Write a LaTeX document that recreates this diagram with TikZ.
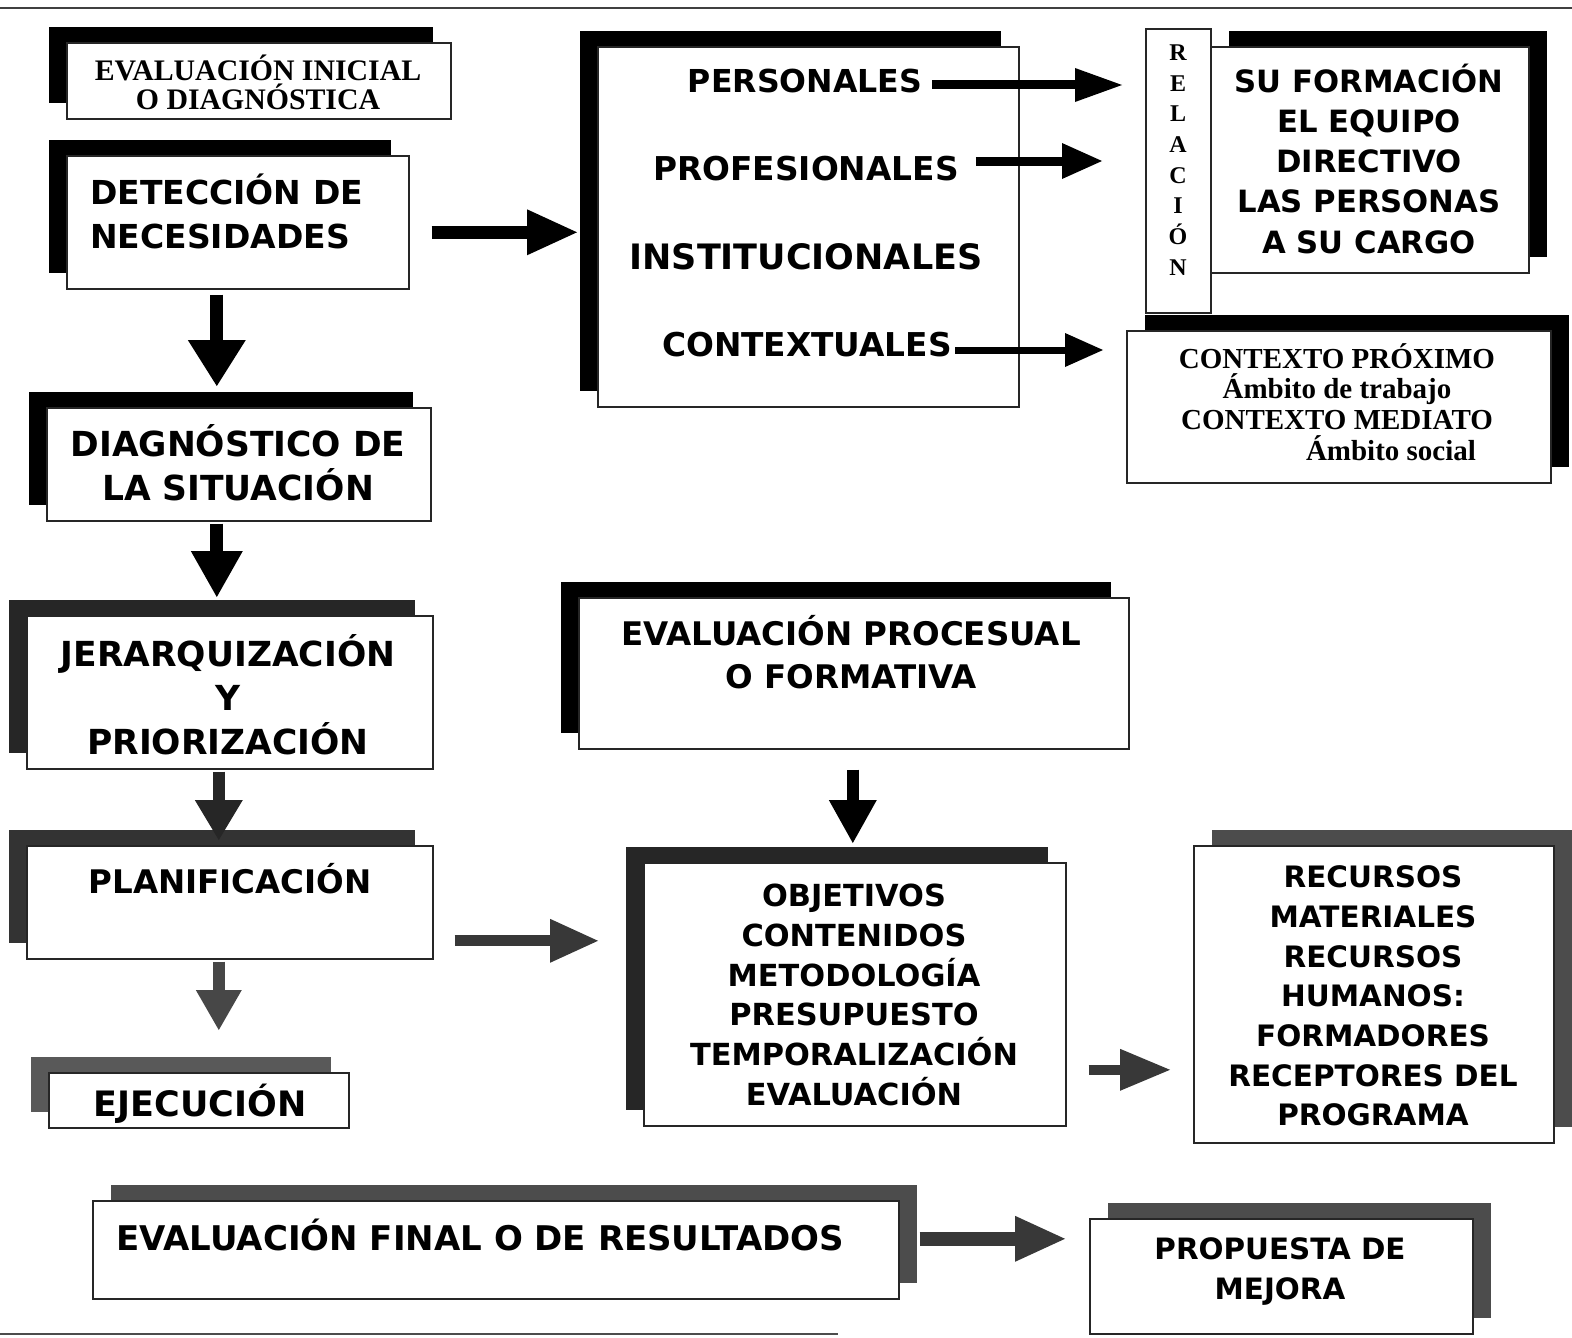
\documentclass[tikz,border=0pt]{standalone}
\usepackage{fontspec}
\usetikzlibrary{shadows,arrows.meta}
\newfontfamily\comic{DejaVu Sans}
\newfontfamily\tms{Liberation Serif}
\newcommand{\fsz}[2]{\fontsize{#1}{#2}\selectfont}

\begin{document}
\begin{tikzpicture}[x=1pt,y=-1pt,
  box/.style={draw=black!85, line width=1.6pt, fill=white, inner sep=0pt, anchor=north west},
  shL/.style={drop shadow={shadow xshift=-18pt, shadow yshift=16pt, fill=#1, opacity=1}},
  shL/.default=black,
  shR/.style={drop shadow={shadow xshift=18pt, shadow yshift=16pt, fill=#1, opacity=1}},
  shR/.default=black,
  txt/.style={inner sep=0pt, align=center},
  fat/.style n args={4}{draw=#4, line width=#1pt,
    -{Triangle[length=#2pt, width=#3pt, line width=0pt]}},
]
\useasboundingbox (0,0) rectangle (1572,1338);
\fill[white] (0,0) rectangle (1572,1338);

% rules at the top and bottom of the page
\draw[black!75, line width=1.5pt] (0,8) -- (1572,8);
\draw[black!70, line width=1.2pt] (0,1334) -- (838,1334);

% ---------- boxes ----------
\node[box, shL, minimum width=384pt, minimum height=76pt]  (ini)  at (66,42) {};
\node[box, shL, minimum width=342pt, minimum height=133pt] (det)  at (66,155) {};
\node[box, shL, minimum width=384pt, minimum height=113pt] (diag) at (46,407) {};
\node[box, shL=black!85, minimum width=406pt, minimum height=153pt] (jer) at (26,615) {};
\node[box, shL=black!80, minimum width=406pt, minimum height=113pt] (plan) at (26,845) {};
\node[box, shL=black!65, minimum width=300pt, minimum height=55pt] (ejec) at (48,1072) {};

\node[box, shL, minimum width=421pt, minimum height=360pt] (big)  at (597,46) {};
\node[box, minimum width=65pt, minimum height=284pt] (rel) at (1145,28) {};
\node[box, shR, minimum width=318pt, minimum height=226pt] (form) at (1210,46) {};
\node[box, shR, minimum width=424pt, minimum height=152pt] (ctx)  at (1126,330) {};

\node[box, shL, minimum width=550pt, minimum height=151pt] (proc) at (578,597) {};
\node[box, shL=black!85, minimum width=422pt, minimum height=263pt] (obj) at (643,862) {};
\node[box, shR=black!70, minimum width=360pt, minimum height=297pt] (rec) at (1193,845) {};

\node[box, shR=black!70, minimum width=806pt, minimum height=98pt] (fin) at (92,1200) {};
\node[box, shR=black!70, minimum width=383pt, minimum height=115pt] (prop) at (1089,1218) {};

% ---------- texts ----------
\node[txt, font=\tms\bfseries\fsz{29.8}{29}] (iniT) at (258,82)
  {EVALUACIÓN INICIAL\\O DIAGNÓSTICA};
\node[txt, align=left, anchor=west, font=\comic\bfseries\fsz{33}{44}] (detT) at (90,211)
  {DETECCIÓN DE\\NECESIDADES};
\node[txt, font=\comic\bfseries\fsz{34.5}{44}] (diagT) at (238,463)
  {DIAGNÓSTICO DE\\LA SITUACIÓN};
\node[txt, font=\comic\bfseries\fsz{34.5}{44}] (jerT) at (228,695)
  {JERARQUIZACIÓN\\Y\\PRIORIZACIÓN};
\node[txt, font=\comic\bfseries\fsz{32.5}{44}] (planT) at (230,879) {PLANIFICACIÓN};
\node[txt, font=\comic\bfseries\fsz{35}{44}] (ejecT) at (200,1104) {EJECUCIÓN};

\node[txt, font=\comic\bfseries\fsz{31.6}{40}] (pers) at (805,81)  {PERSONALES};
\node[txt, font=\comic\bfseries\fsz{32.8}{40}] (prof) at (806,169) {PROFESIONALES};
\node[txt, font=\comic\bfseries\fsz{35}{40}]   (inst) at (806,257) {INSTITUCIONALES};
\node[txt, font=\comic\bfseries\fsz{32.8}{40}] (cont) at (807,345) {CONTEXTUALES};

\node[txt, font=\tms\bfseries\fsz{24}{30.7}] (relT) at (1178,160)
  {R\\E\\L\\A\\C\\I\\Ó\\N};
\node[txt, font=\comic\bfseries\fsz{30.7}{40.25}] (formT) at (1369,158.5)
  {SU FORMACIÓN\\EL EQUIPO\\DIRECTIVO\\LAS PERSONAS\\A SU CARGO};
\node[txt, font=\tms\bfseries\fsz{29}{30.7}] (ctxT) at (1337,402)
  {CONTEXTO PRÓXIMO\\Ámbito de trabajo\\CONTEXTO MEDIATO\\\hspace*{108pt}Ámbito social};

\node[txt, font=\comic\bfseries\fsz{32.5}{43}] (procT) at (851,652)
  {EVALUACIÓN PROCESUAL\\O FORMATIVA};
\node[txt, font=\comic\bfseries\fsz{30.4}{39.8}] (objT) at (854,995)
  {OBJETIVOS\\CONTENIDOS\\METODOLOGÍA\\PRESUPUESTO\\TEMPORALIZACIÓN\\EVALUACIÓN};
\node[txt, font=\comic\bfseries\fsz{29.5}{39.67}] (recT) at (1373,996)
  {RECURSOS\\MATERIALES\\RECURSOS\\HUMANOS:\\FORMADORES\\RECEPTORES DEL\\PROGRAMA};

\node[txt, anchor=west, font=\comic\bfseries\fsz{34}{40}] (finT) at (116,1235)
  {EVALUACIÓN FINAL O DE RESULTADOS};
\node[txt, font=\comic\bfseries\fsz{29.4}{40}] (propT) at (1280,1272)
  {PROPUESTA DE\\MEJORA};

% ---------- connectors ----------
\coordinate (a1) at ([yshift=-10pt]det.east);
\draw[fat={13}{50}{46}{black}, shorten <=22pt, shorten >=20pt] (a1) -- (a1 -| big.west);

\coordinate (a2) at ([xshift=-21pt]det.south);
\draw[fat={13}{46}{58}{black}, shorten <=5pt, shorten >=21pt] (a2) -- (a2 |- diag.north);

\coordinate (a3) at ([xshift=-22pt]diag.south);
\draw[fat={13}{46}{52}{black}, shorten <=2pt, shorten >=18pt] (a3) -- (a3 |- jer.north);

\coordinate (a4) at ([xshift=-11pt]jer.south);
\draw[fat={12}{40}{48}{black!85}, shorten <=2pt, shorten >=5pt] (a4) -- (a4 |- plan.north);

\coordinate (a5) at ([xshift=-11pt]plan.south);
\draw[fat={12}{40}{46}{black!72}, shorten <=2pt, shorten >=42pt] (a5) -- (a5 |- ejec.north);

\coordinate (a6) at ([yshift=-38.5pt]plan.east);
\draw[fat={11}{48}{44}{black!78}, shorten <=21pt, shorten >=45pt] (a6) -- (a6 -| obj.west);

\coordinate (a7) at ([xshift=-1pt]proc.south);
\draw[fat={12}{43}{48}{black}, shorten <=20pt, shorten >=19pt] (a7) -- (a7 |- obj.north);

\coordinate (a8) at ([yshift=-75.5pt]obj.east);
\draw[fat={10}{50}{42}{black!78}, shorten <=22pt, shorten >=23pt] (a8) -- (a8 -| rec.west);

\coordinate (a9) at ([yshift=11pt]fin.east);
\draw[fat={14}{50}{46}{black!78}, shorten <=20pt, shorten >=24pt] (a9) -- (a9 -| prop.west);

\coordinate (a10) at ([yshift=-4pt]pers.east);
\draw[fat={9}{47}{34}{black}, shorten <=10pt, shorten >=23pt] (a10) -- (a10 -| rel.west);

\coordinate (a11) at ([yshift=8pt]prof.east);
\draw[fat={9}{40}{36}{black}, shorten <=17pt, shorten >=43pt] (a11) -- (a11 -| rel.west);

\coordinate (a12) at ([yshift=-5pt]cont.east);
\draw[fat={7}{38}{34}{black}, shorten <=3pt, shorten >=23pt] (a12) -- (a12 -| ctx.west);
\end{tikzpicture}
\end{document}
